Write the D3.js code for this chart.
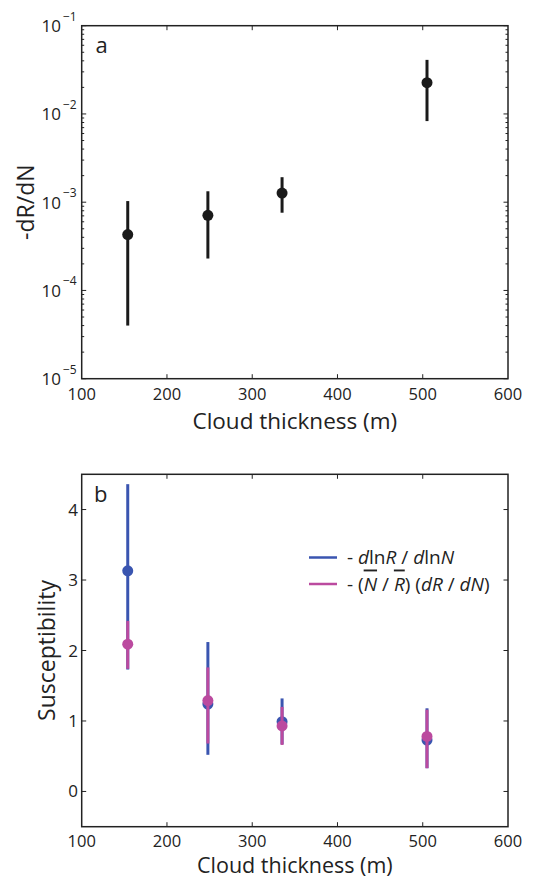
<!DOCTYPE html>
<html><head><meta charset="utf-8">
<script src="https://cdn.jsdelivr.net/npm/d3@7"></script>
<style>body{margin:0;background:#fff}svg{display:block;font-family:"Open Sans",sans-serif}</style>
</head><body><svg id="c" width="537" height="879"></svg>
<script>
// ---- data ----
const thickness = [154, 248, 335, 505];
// panel a: -dR/dN
const dRdN = [4.3e-4, 7.1e-4, 1.27e-3, 2.26e-2];
const dRdNLow = [4.0e-5, 2.3e-4, 7.6e-4, 8.3e-3];
const dRdNHigh = [1.03e-3, 1.33e-3, 1.92e-3, 4.1e-2];
// panel b: susceptibility
const suscLn = [3.13, 1.24, 0.99, 0.73];
const suscLnLow = [1.73, 0.52, 0.67, 0.33];
const suscLnHigh = [4.36, 2.12, 1.32, 1.18];
const suscBar = [2.09, 1.29, 0.93, 0.78];
const suscBarLow = [1.74, 0.68, 0.66, 0.33];
const suscBarHigh = [2.42, 1.76, 1.20, 1.16];
const xTicks = [100, 200, 300, 400, 500, 600];
const logTicks = [1e-5, 1e-4, 1e-3, 1e-2, 1e-1];
const logTickExp = ["−5", "−4", "−3", "−2", "−1"];
const linTicks = [0, 1, 2, 3, 4];

const svg = d3.select("#c");
const axisColor = "#222";
const blue = "#3a55b0", pink = "#bb4a9f";
const L = 81.7, R = 508;
const x = d3.scaleLinear().domain([100, 600]).range([L, R]);

function frame(g, top, bottom, y, yTicks, minor, tickOff, titleOff, titleSize) {
  g.append("rect").attr("x", L).attr("y", top).attr("width", R - L).attr("height", bottom - top)
    .attr("fill", "none").attr("stroke", axisColor).attr("stroke-width", 1.5);
  xTicks.slice(1, -1).forEach(t => {
    g.append("line").attr("x1", x(t)).attr("x2", x(t)).attr("y1", bottom).attr("y2", bottom - 4.5).attr("stroke", axisColor).attr("stroke-width", 1);
    g.append("line").attr("x1", x(t)).attr("x2", x(t)).attr("y1", top).attr("y2", top + 4.5).attr("stroke", axisColor).attr("stroke-width", 1);
  });
  xTicks.forEach(t => {
    g.append("text").attr("x", x(t)).attr("y", bottom + tickOff).attr("text-anchor", "middle")
      .attr("font-size", 16.5).attr("fill", axisColor).text(t);
  });
  yTicks.forEach(t => {
    g.append("line").attr("x1", L).attr("x2", L + 4.5).attr("y1", y(t)).attr("y2", y(t)).attr("stroke", axisColor).attr("stroke-width", 1);
    g.append("line").attr("x1", R).attr("x2", R - 4.5).attr("y1", y(t)).attr("y2", y(t)).attr("stroke", axisColor).attr("stroke-width", 1);
  });
  (minor || []).forEach(t => {
    g.append("line").attr("x1", L).attr("x2", L + 2.5).attr("y1", y(t)).attr("y2", y(t)).attr("stroke", axisColor).attr("stroke-width", 1);
    g.append("line").attr("x1", R).attr("x2", R - 2.5).attr("y1", y(t)).attr("y2", y(t)).attr("stroke", axisColor).attr("stroke-width", 1);
  });
  g.append("text").attr("x", (L + R) / 2).attr("y", bottom + titleOff).attr("text-anchor", "middle")
    .attr("font-size", titleSize).attr("fill", axisColor).text("Cloud thickness (m)");
}

function errbars(g, y, v, lo, hi, color) {
  g.selectAll(null).data(thickness).enter().append("line")
    .attr("x1", d => x(d)).attr("x2", d => x(d))
    .attr("y1", (d, i) => y(lo[i])).attr("y2", (d, i) => y(hi[i]))
    .attr("stroke", color).attr("stroke-width", 3);
  g.selectAll(null).data(thickness).enter().append("circle")
    .attr("cx", d => x(d)).attr("cy", (d, i) => y(v[i])).attr("r", 5.5).attr("fill", color);
}

// ---- panel a ----
{
  const top = 25.7, bottom = 378.7;
  const y = d3.scaleLog().domain([1e-5, 1e-1]).range([bottom, top]);
  const g = svg.append("g");
  const minor = [];
  for (let e = -5; e < -1; e++) for (let k = 2; k <= 9; k++) minor.push(k * Math.pow(10, e));
  frame(g, top, bottom, y, logTicks, minor, 21.5, 50, 22.5);
  logTicks.forEach((t, i) => {
    g.append("text").attr("x", 61).attr("y", y(t) + 6.5).attr("text-anchor", "end")
      .attr("font-size", 17).attr("fill", axisColor).text("10");
    g.append("text").attr("x", 63).attr("y", y(t) - 5).attr("font-size", 12).attr("fill", axisColor).text(logTickExp[i]);
  });
  g.append("text").attr("transform", `translate(34,${(top + bottom) / 2}) rotate(-90)`)
    .attr("text-anchor", "middle").attr("font-size", 23).attr("fill", axisColor).text("-dR/dN");
  g.append("text").attr("x", 95.5).attr("y", 53.3).attr("font-size", 22).attr("fill", axisColor).text("a");
  errbars(g, y, dRdN, dRdNLow, dRdNHigh, "#1a1a1a");
}

// ---- panel b ----
{
  const top = 474.3, bottom = 826.7;
  const y = d3.scaleLinear().domain([-0.5, 4.5]).range([bottom, top]);
  const g = svg.append("g");
  frame(g, top, bottom, y, linTicks, [], 20.5, 46.5, 21.5);
  linTicks.forEach(t => {
    g.append("text").attr("x", 78).attr("y", y(t) + 6).attr("text-anchor", "end")
      .attr("font-size", 17).attr("fill", axisColor).text(t);
  });
  g.append("text").attr("transform", `translate(55,${(top + bottom) / 2}) rotate(-90)`)
    .attr("text-anchor", "middle").attr("font-size", 23).attr("fill", axisColor).text("Susceptibility");
  g.append("text").attr("x", 94).attr("y", 501.5).attr("font-size", 22).attr("fill", axisColor).text("b");
  errbars(g, y, suscLn, suscLnLow, suscLnHigh, blue);
  errbars(g, y, suscBar, suscBarLow, suscBarHigh, pink);

  // legend
  const lx = 309, ly1 = 557.5, ly2 = 584;
  g.append("line").attr("x1", lx).attr("x2", lx + 28).attr("y1", ly1).attr("y2", ly1).attr("stroke", blue).attr("stroke-width", 2.5);
  g.append("line").attr("x1", lx).attr("x2", lx + 28).attr("y1", ly2).attr("y2", ly2).attr("stroke", pink).attr("stroke-width", 2.5);
  const fs = 19;
  const t1 = g.append("text").attr("x", 347).attr("y", ly1 + 6.5).attr("font-size", fs).attr("fill", axisColor);
  t1.append("tspan").text("- ");
  t1.append("tspan").attr("font-style", "italic").text("d");
  t1.append("tspan").text("ln");
  t1.append("tspan").attr("font-style", "italic").text("R");
  t1.append("tspan").text(" / ");
  t1.append("tspan").attr("font-style", "italic").text("d");
  t1.append("tspan").text("ln");
  t1.append("tspan").attr("font-style", "italic").text("N");
  const t2 = g.append("text").attr("x", 347).attr("y", ly2 + 6.5).attr("font-size", fs).attr("fill", axisColor);
  t2.append("tspan").text("- (");
  t2.append("tspan").attr("font-style", "italic").attr("text-decoration", "overline").text("N");
  t2.append("tspan").text(" / ");
  t2.append("tspan").attr("font-style", "italic").attr("text-decoration", "overline").text("R");
  t2.append("tspan").text(") (");
  t2.append("tspan").attr("font-style", "italic").text("dR");
  t2.append("tspan").text(" / ");
  t2.append("tspan").attr("font-style", "italic").text("dN");
  t2.append("tspan").text(")");
}
</script></body></html>
